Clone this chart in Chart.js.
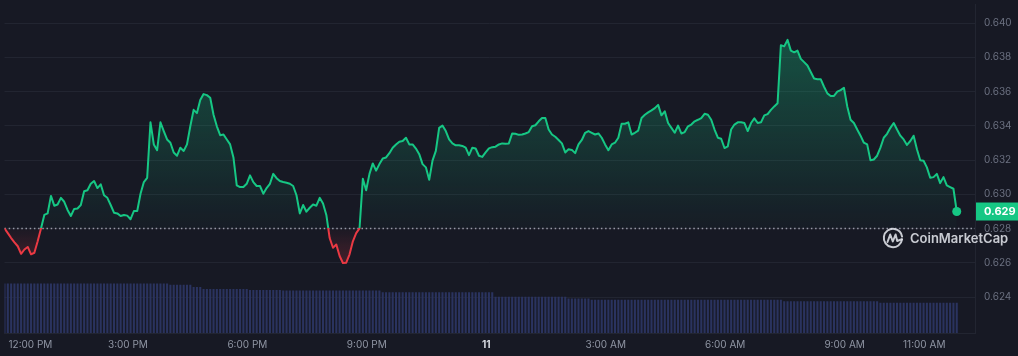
<!DOCTYPE html>
<html>
<head>
<meta charset="utf-8">
<script src="https://cdn.jsdelivr.net/npm/chart.js@4.4.1/dist/chart.umd.min.js"></script>
<style>
html,body{margin:0;padding:0;background:#171924;}
#wrap{width:1018px;height:356px;position:relative;}
</style>
</head>
<body>
<div id="wrap"><canvas id="c"></canvas></div>
<script>
// ---- data ----
const startMinute = -6;   // minutes relative to 12:00 PM
const stepMinutes = 5;
const prices = [
0.62801,0.62774,0.62745,0.62720,0.62697,0.62653,0.62678,0.62693,0.62650,0.62659,0.62726,0.62801,
0.62880,0.62889,0.62991,0.62934,0.62941,0.62980,0.62957,0.62909,0.62874,0.62915,0.62918,0.62938,
0.63018,0.63024,0.63062,0.63078,0.63037,0.63059,0.62995,0.62980,0.62938,0.62893,0.62889,0.62874,
0.62880,0.62876,0.62855,0.62903,0.62903,0.63004,0.63072,0.63097,0.63421,0.63292,0.63258,0.63421,
0.63370,0.63321,0.63302,0.63245,0.63226,0.63273,0.63254,0.63292,0.63398,0.63494,0.63475,0.63552,
0.63586,0.63580,0.63565,0.63465,0.63398,0.63346,0.63350,0.63321,0.63292,0.63216,0.63053,0.63043,
0.63043,0.63062,0.63111,0.63072,0.63049,0.63049,0.63004,0.63037,0.63062,0.63120,0.63095,0.63078,
0.63072,0.63068,0.63062,0.63049,0.62995,0.62889,0.62938,0.62899,0.62922,0.62941,0.62934,0.62980,
0.62947,0.62880,0.62745,0.62688,0.62707,0.62640,0.62599,0.62601,0.62650,0.62726,0.62774,0.62801,
0.63091,0.63024,0.63120,0.63181,0.63139,0.63177,0.63210,0.63216,0.63241,0.63273,0.63292,0.63308,
0.63312,0.63331,0.63292,0.63292,0.63268,0.63235,0.63177,0.63158,0.63085,0.63197,0.63254,0.63389,
0.63402,0.63370,0.63321,0.63298,0.63287,0.63287,0.63283,0.63273,0.63229,0.63273,0.63268,0.63226,
0.63219,0.63245,0.63269,0.63276,0.63279,0.63292,0.63298,0.63296,0.63298,0.63356,0.63354,0.63348,
0.63350,0.63356,0.63364,0.63398,0.63404,0.63427,0.63446,0.63446,0.63379,0.63350,0.63337,0.63318,
0.63298,0.63245,0.63264,0.63260,0.63241,0.63292,0.63318,0.63360,0.63370,0.63360,0.63350,0.63356,
0.63331,0.63292,0.63258,0.63292,0.63302,0.63331,0.63413,0.63413,0.63421,0.63350,0.63360,0.63373,
0.63446,0.63465,0.63479,0.63491,0.63504,0.63523,0.63462,0.63485,0.63417,0.63389,0.63360,0.63402,
0.63356,0.63364,0.63398,0.63408,0.63427,0.63436,0.63446,0.63471,0.63465,0.63436,0.63379,0.63331,
0.63325,0.63271,0.63281,0.63379,0.63408,0.63421,0.63421,0.63417,0.63370,0.63417,0.63444,0.63417,
0.63421,0.63462,0.63469,0.63494,0.63514,0.63533,0.63872,0.63865,0.63903,0.63840,0.63830,0.63840,
0.63792,0.63773,0.63753,0.63715,0.63677,0.63673,0.63673,0.63629,0.63590,0.63575,0.63575,0.63600,
0.63609,0.63623,0.63514,0.63436,0.63417,0.63379,0.63343,0.63302,0.63292,0.63199,0.63204,0.63226,
0.63273,0.63331,0.63354,0.63389,0.63417,0.63379,0.63343,0.63321,0.63289,0.63312,0.63343,0.63264,
0.63199,0.63197,0.63158,0.63097,0.63101,0.63120,0.63066,0.63101,0.63053,0.63043,0.63033,0.62900
];
const volumes = [
15.1,15.1,15.1,15.1,15.1,15.1,15.1,15.1,15.1,15.1,15.1,15.1,
15.1,15.1,15.1,15.1,15.1,15.1,15.1,15.1,15.1,15.1,15.1,15.1,
15.1,15.1,15.1,15.1,15.1,15.1,15.1,15.1,15.1,15.1,15.1,15.1,
15.1,15.1,15.1,15.1,15.1,15.1,15.1,15.1,15.1,15.1,15.1,15.1,
15.1,15.1,14.7,14.7,14.7,14.7,14.7,14.7,14.7,14.0,14.0,14.0,
13.4,13.4,13.4,13.4,13.4,13.4,13.4,13.4,13.4,13.4,13.4,13.4,
13.4,13.4,13.1,13.1,13.1,13.1,13.1,13.1,13.1,13.1,13.1,13.1,
12.9,12.9,12.9,12.9,12.9,12.9,12.9,12.9,12.9,12.9,12.9,12.9,
12.9,12.9,12.9,12.9,12.9,12.9,12.9,12.9,12.9,12.9,12.9,12.9,
12.9,12.9,12.9,12.9,12.9,12.9,12.4,12.4,12.4,12.4,12.4,12.4,
12.4,12.4,12.4,12.4,12.4,12.4,12.4,12.4,12.4,12.4,12.4,12.4,
12.4,12.4,12.4,12.4,12.4,12.4,12.4,12.4,12.4,12.4,12.4,12.4,
12.4,12.4,12.4,12.4,11.0,11.0,11.0,11.0,11.0,11.0,11.0,11.0,
11.0,11.0,11.0,11.0,11.0,11.0,11.0,11.0,11.0,11.0,11.0,11.0,
11.0,11.0,10.5,10.5,10.5,10.5,10.5,10.5,10.5,10.1,10.1,10.1,
10.1,10.1,10.1,10.1,10.1,10.1,10.1,10.1,10.1,10.1,10.1,10.1,
10.1,10.1,10.1,10.1,10.1,10.1,10.1,10.1,10.1,10.1,10.1,10.1,
10.1,10.1,10.1,10.1,10.1,10.1,10.1,10.1,10.1,10.1,10.1,10.1,
10.1,10.1,10.1,10.1,10.1,10.1,10.1,10.1,10.1,10.1,10.1,10.1,
10.1,10.1,10.1,10.1,10.1,10.1,10.1,9.7,9.7,9.7,9.7,9.7,
9.7,9.7,9.7,9.7,9.7,9.7,9.7,9.7,9.7,9.7,9.7,9.7,
9.7,9.7,9.7,9.7,9.7,9.7,9.7,9.7,9.7,9.7,9.7,9.7,
9.2,9.2,9.2,9.2,9.2,9.2,9.2,9.2,9.2,9.2,9.2,9.2,
9.2,9.2,9.2,9.2,9.2,9.2,9.2,9.2,9.2,9.2,9.2,9.2
];
const tickMinutes = [0, 180, 360, 540, 720, 900, 1080, 1260, 1380];
const tickLabels = ['12:00 PM','3:00 PM','6:00 PM','9:00 PM','11','3:00 AM','6:00 AM','9:00 AM','11:00 AM'];
const priceTicks = [0.624, 0.626, 0.628, 0.630, 0.632, 0.634, 0.636, 0.638, 0.640];

// ---- view ----
const xMin = -6, xMax = 1456.5;
const yMin = 0.621902, yMax = 0.641095;
const volMax = 100;
const GREEN = '#16c784', RED = '#ea3943';
const base = prices[0];
const lastIdx = prices.length - 1;

const priceData = prices.map((p, i) => ({x: startMinute + i * stepMinutes, y: p}));
const volData = volumes.map((v, i) => ({x: startMinute + i * stepMinutes, y: v}));

function basePixelFrac(chart) {
  const a = chart.chartArea;
  const by = chart.scales.y.getPixelForValue(base);
  return Math.min(1, Math.max(0, (by - a.top) / (a.bottom - a.top)));
}
function lineGradient(c) {
  const chart = c.chart, a = chart.chartArea;
  if (!a) return GREEN;
  const f = basePixelFrac(chart);
  const g = chart.ctx.createLinearGradient(0, a.top, 0, a.bottom);
  g.addColorStop(0, GREEN); g.addColorStop(f, GREEN);
  g.addColorStop(f, RED); g.addColorStop(1, RED);
  return g;
}
function fillGradient(c) {
  const chart = c.chart, a = chart.chartArea;
  if (!a) return 'rgba(22,199,132,0.1)';
  const ys = chart.scales.y;
  const top = ys.getPixelForValue(Math.max(...prices));
  const bot = ys.getPixelForValue(Math.min(...prices));
  const by = ys.getPixelForValue(base);
  const f = (by - top) / (bot - top);
  const g = chart.ctx.createLinearGradient(0, top, 0, bot);
  g.addColorStop(0, 'rgba(22,199,132,0.32)');
  g.addColorStop(f, 'rgba(22,199,132,0.02)');
  g.addColorStop(f, 'rgba(234,57,67,0.02)');
  g.addColorStop(1, 'rgba(234,57,67,0.22)');
  return g;
}

const baselinePlugin = {
  id: 'baseline',
  beforeDatasetsDraw(chart) {
    const ctx = chart.ctx, a = chart.chartArea;
    const y = Math.round(chart.scales.y.getPixelForValue(base)) + 0.5;
    ctx.save();
    ctx.strokeStyle = 'rgba(170,175,188,0.85)';
    ctx.lineWidth = 1.3;
    ctx.setLineDash([1.5, 2.7]);
    ctx.beginPath(); ctx.moveTo(a.left, y); ctx.lineTo(a.right, y); ctx.stroke();
    ctx.restore();
  }
};

const overlayPlugin = {
  id: 'overlay',
  afterDraw(chart) {
    const ctx = chart.ctx, a = chart.chartArea;
    const last = prices[lastIdx];
    const py = chart.scales.y.getPixelForValue(last);
    ctx.save();
    // last price badge
    ctx.fillStyle = GREEN;
    ctx.fillRect(a.right + 1, py - 9, chart.width - a.right - 1, 18);
    ctx.fillStyle = '#ffffff';
    ctx.font = '700 11px Inter, "Noto Sans", sans-serif';
    ctx.textBaseline = 'middle'; ctx.textAlign = 'left';
    ctx.fillText(last.toFixed(3), a.right + 9, py + 0.5);
    // watermark
    const cx = chart.width - 125, cy = 238;
    const wm = 'rgba(225,228,235,0.88)';
    ctx.strokeStyle = wm; ctx.lineWidth = 2; ctx.lineJoin = 'round'; ctx.lineCap = 'round';
    ctx.beginPath(); ctx.arc(cx, cy, 9.2, Math.PI * 0.05, Math.PI * 1.95); ctx.stroke();
    ctx.beginPath();
    ctx.moveTo(cx - 5.5, cy + 4);
    ctx.lineTo(cx - 2.8, cy - 3.5);
    ctx.lineTo(cx - 0.2, cy + 3.5);
    ctx.lineTo(cx + 2.6, cy - 3.5);
    ctx.lineTo(cx + 4.2, cy + 3);
    ctx.lineTo(cx + 8.8, cy + 1.2);
    ctx.stroke();
    ctx.fillStyle = wm;
    ctx.font = '600 13px Inter, "Noto Sans", sans-serif';
    ctx.textBaseline = 'middle'; ctx.textAlign = 'left';
    ctx.fillText('CoinMarketCap', cx + 17, cy + 1);
    ctx.restore();
  }
};

new Chart(document.getElementById('c'), {
  data: {
    datasets: [
      {
        type: 'line', data: priceData, yAxisID: 'y', order: 0,
        borderWidth: 2, tension: 0, borderJoinStyle: 'round',
        borderColor: lineGradient, backgroundColor: fillGradient,
        fill: {target: {value: base}},
        pointRadius: c => c.dataIndex === lastIdx ? 4.5 : 0,
        pointBackgroundColor: GREEN, pointBorderWidth: 0, pointHoverRadius: 0
      },
      {
        type: 'bar', data: volData, yAxisID: 'yv', order: 1,
        backgroundColor: 'rgb(42,51,95)', borderWidth: 0,
        categoryPercentage: 1, barPercentage: 0.62
      }
    ]
  },
  options: {
    responsive: true, maintainAspectRatio: false, animation: false, events: [],
    layout: {padding: 0},
    plugins: {legend: {display: false}, tooltip: {enabled: false}},
    scales: {
      x: {
        type: 'linear', min: xMin, max: xMax, offset: false, bounds: 'data',
        afterBuildTicks: s => { s.ticks = tickMinutes.map(v => ({value: v})).concat([{value: xMax}]); },
        afterFit: s => { s.height = 23; s.paddingLeft = 0; s.paddingRight = 0; },
        grid: {display: false, drawTicks: false, offset: false},
        border: {display: true, color: '#222531'},
        ticks: {
          align: 'inner', padding: 6, maxRotation: 0, autoSkip: false,
          callback: (v, i) => i < tickLabels.length ? tickLabels[i] : '',
          color: c => c.index === 4 ? '#d8dbe2' : '#8f95a3',
          font: c => ({family: 'Inter', size: 10, weight: c.index === 4 ? '700' : '400'})
        }
      },
      y: {
        type: 'linear', position: 'right', min: yMin, max: yMax,
        afterBuildTicks: s => { s.ticks = priceTicks.map(v => ({value: v})); },
        afterFit: s => { s.width = 43; s.paddingTop = 0; s.paddingBottom = 0; },
        grid: {color: '#222531', drawTicks: false, lineWidth: 1},
        border: {display: true, color: '#222531'},
        ticks: {padding: 9, color: '#6b7080', font: {family: 'Inter', size: 10}, callback: v => v.toFixed(3)}
      },
      yv: {type: 'linear', display: false, min: 0, max: volMax}
    }
  },
  plugins: [baselinePlugin, overlayPlugin]
});
</script>
</body>
</html>
